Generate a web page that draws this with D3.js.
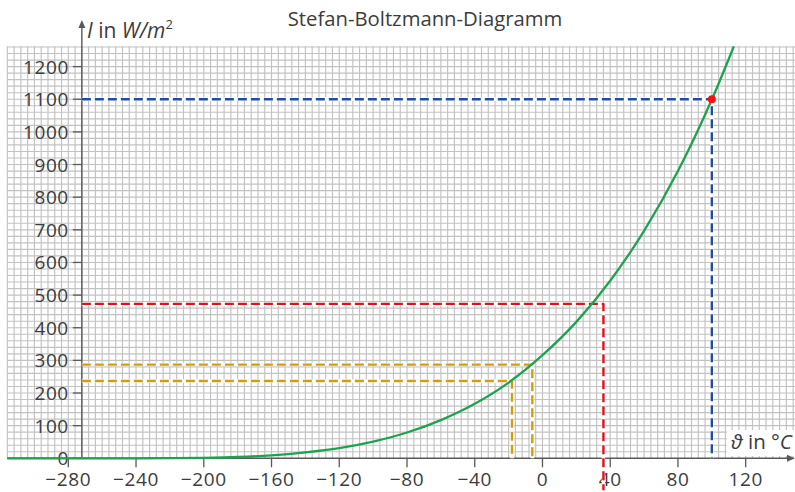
<!DOCTYPE html>
<html>
<head>
<meta charset="utf-8">
<script src="https://cdn.jsdelivr.net/npm/d3@7"></script>
<style>
  html, body { margin: 0; padding: 0; background: #fff; }
  svg { display: block; font-family: "Open Sans", "Noto Sans", sans-serif; }
</style>
</head>
<body>
<div id="graph"></div>
<script>
// curve values: temperature in degC, intensity in W/m2
var temperatures = [-316, -280, -260, -240, -220, -200, -180, -160, -140, -120, -100, -80, -60, -40, -20, 0, 20, 40, 60, 80, 100, 113];
var intensities  = [0, 0, 0, 0, 0.5, 1.6, 4, 9, 18, 31, 51, 79, 117, 167, 232, 316, 418, 544, 697, 880, 1099, 1262];

// dashed read-off lines
var guideTemps       = [100, 36, -6, -18];
var guideIntensities = [1100, 473, 287, 237];
var guideBottoms     = [0, -98, 0, 0];

// marked point
var pointTemp = 100;
var pointIntensity = 1100;

// ticks
var xTicks = [-280, -240, -200, -160, -120, -80, -40, 0, 40, 80, 120];
var yTicks = [0, 100, 200, 300, 400, 500, 600, 700, 800, 900, 1000, 1100, 1200];

// y axis sits at absolute zero
var yAxisAt = -272;

var GUIDE_COLOURS = ["#1f4ea0", "#e0101c", "#d19e0c", "#d19e0c"];
var TEXT = "#3c3c3c";
var AXIS = "#595959";

var g_svg = d3.select("#graph")
  .append("svg")
    .attr("width", 795)
    .attr("height", 492);

var x = d3.scaleLinear().domain([-280, 120]).range([68.3, 745.7]);
var y = d3.scaleLinear().domain([0, 1200]).range([458.3, 66.6]);

//----------------------------------------------------------
// graph paper
var grid = g_svg.append("g")
    .attr("stroke", "#c2c2c2")
    .attr("stroke-width", 1.15);

grid.selectAll("line.v")
  .data(d3.range(-316, 150, 4))
  .join("line")
    .attr("class", "v")
    .attr("x1", function (d) { return x(d); })
    .attr("x2", function (d) { return x(d); })
    .attr("y1", y(0))
    .attr("y2", y(1262));

grid.selectAll("line.h")
  .data(d3.range(20, 1270, 20))
  .join("line")
    .attr("class", "h")
    .attr("x1", x(-316))
    .attr("x2", 795)
    .attr("y1", function (d) { return y(d); })
    .attr("y2", function (d) { return y(d); });

// white box behind the x label
g_svg.append("rect")
    .attr("x", 727)
    .attr("y", 430)
    .attr("width", 68)
    .attr("height", 26)
    .attr("fill", "#fff");

//----------------------------------------------------------
// axes
g_svg.append("line")
    .attr("x1", x(-316)).attr("x2", 790)
    .attr("y1", y(0)).attr("y2", y(0))
    .attr("stroke", AXIS).attr("stroke-width", 1.4);
g_svg.append("path")
    .attr("d", "M795," + y(0) + "l-8,-3.5v7z")
    .attr("fill", AXIS);

g_svg.append("line")
    .attr("x1", x(yAxisAt)).attr("x2", x(yAxisAt))
    .attr("y1", y(0)).attr("y2", 26)
    .attr("stroke", AXIS).attr("stroke-width", 1.4);
g_svg.append("path")
    .attr("d", "M" + x(yAxisAt) + ",20l-3.5,8h7z")
    .attr("fill", AXIS);

var xt = g_svg.append("g");
xt.selectAll("line")
  .data(xTicks)
  .join("line")
    .attr("x1", function (d) { return x(d); })
    .attr("x2", function (d) { return x(d); })
    .attr("y1", y(0))
    .attr("y2", y(0) + 9)
    .attr("stroke", AXIS)
    .attr("stroke-width", 1.3);
xt.selectAll("text")
  .data(xTicks)
  .join("text")
    .attr("x", function (d) { return x(d); })
    .attr("y", 486)
    .attr("text-anchor", "middle")
    .attr("fill", TEXT)
    .attr("font-size", 19)
    .attr("letter-spacing", 0.6)
    .text(function (d) { return d < 0 ? "\u2212" + (-d) : d; });

var yt = g_svg.append("g");
yt.selectAll("line")
  .data(yTicks)
  .join("line")
    .attr("x1", x(yAxisAt) - 9)
    .attr("x2", x(yAxisAt))
    .attr("y1", function (d) { return y(d); })
    .attr("y2", function (d) { return y(d); })
    .attr("stroke", AXIS)
    .attr("stroke-width", 1.3);
yt.selectAll("text")
  .data(yTicks)
  .join("text")
    .attr("x", x(yAxisAt) - 13)
    .attr("y", function (d) { return y(d) + 7; })
    .attr("text-anchor", "end")
    .attr("fill", TEXT)
    .attr("font-size", 19)
    .attr("letter-spacing", 0.6)
    .text(function (d) { return d; });

//----------------------------------------------------------
// read-off lines
var guides = g_svg.append("g")
  .selectAll("g")
  .data(guideTemps.map(function (t, i) {
      return { t: t, v: guideIntensities[i], b: guideBottoms[i], c: GUIDE_COLOURS[i] };
  }))
  .join("g");

function GuidePath(d) {
    return "M" + x(yAxisAt) + "," + y(d.v) + "H" + x(d.t) + "V" + y(d.b);
}

guides.append("path")
    .attr("d", GuidePath)
    .attr("fill", "none")
    .attr("stroke", "#fff")
    .attr("stroke-width", 3.5);
guides.append("path")
    .attr("d", GuidePath)
    .attr("fill", "none")
    .attr("stroke", function (d) { return d.c; })
    .attr("stroke-width", 2.4)
    .attr("stroke-dasharray", "9,4")
    .attr("stroke-linejoin", "round");

//----------------------------------------------------------
// curve
var line = d3.line()
    .x(function (d) { return x(d[0]); })
    .y(function (d) { return y(d[1]); })
    .curve(d3.curveMonotoneX);

g_svg.append("path")
    .datum(temperatures.map(function (t, i) { return [t, intensities[i]]; }))
    .attr("d", line)
    .attr("fill", "none")
    .attr("stroke", "#1fa24f")
    .attr("stroke-width", 2.3);

g_svg.append("circle")
    .attr("cx", x(pointTemp))
    .attr("cy", y(pointIntensity))
    .attr("r", 4)
    .attr("fill", "#ff1010");

//----------------------------------------------------------
// labels
g_svg.append("text")
    .attr("x", 425)
    .attr("y", 26)
    .attr("text-anchor", "middle")
    .attr("fill", TEXT)
    .attr("font-size", 20.3)
    .text("Stefan-Boltzmann-Diagramm");

var yl = g_svg.append("text")
    .attr("x", 87)
    .attr("y", 38)
    .attr("fill", TEXT)
    .attr("font-size", 21);
yl.append("tspan").attr("font-style", "italic").text("I");
yl.append("tspan").text(" in ");
yl.append("tspan").attr("font-style", "italic").text("W/m");
yl.append("tspan").attr("font-size", 13).attr("dy", -9).text("2");

var xl = g_svg.append("text")
    .attr("x", 731)
    .attr("y", 449)
    .attr("fill", TEXT)
    .attr("font-size", 20.5);
xl.append("tspan").attr("font-style", "italic").text("\u03d1");
xl.append("tspan").text(" in \u00b0");
xl.append("tspan").attr("font-style", "italic").text("C");
</script>
</body>
</html>
